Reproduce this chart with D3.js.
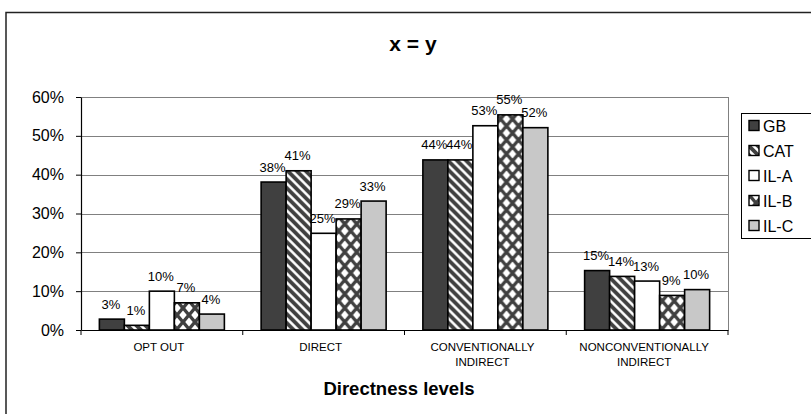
<!DOCTYPE html>
<html>
<head>
<meta charset="utf-8">
<script src="https://cdn.jsdelivr.net/npm/d3@7"></script>
<style>
  html, body { margin: 0; padding: 0; background: #fff; }
  svg { display: block; font-family: Arial, "Liberation Sans", sans-serif; }
</style>
</head>
<body>
<svg id="chart" width="811" height="414"></svg>
<script>
// ---- data ----
const title = "x = y";
const xTitle = "Directness levels";
const categories = ["OPT OUT", "DIRECT", "CONVENTIONALLY\nINDIRECT", "NONCONVENTIONALLY\nINDIRECT"];
const seriesNames = ["GB", "CAT", "IL-A", "IL-B", "IL-C"];
const GB   = [0.028, 0.381, 0.438, 0.153];
const CAT  = [0.012, 0.410, 0.438, 0.138];
const ILA  = [0.100, 0.249, 0.526, 0.126];
const ILB  = [0.070, 0.286, 0.554, 0.089];
const ILC  = [0.041, 0.332, 0.521, 0.104];
const yTicks = [0, 0.1, 0.2, 0.3, 0.4, 0.5, 0.6];

const seriesValues = [GB, CAT, ILA, ILB, ILC];
const fills = ["#404040", "url(#stripes)", "#ffffff", "url(#diamonds)", "#c8c8c8"];

const svg = d3.select("#chart");

// ---- patterns ----
const defs = svg.append("defs");
const st = defs.append("pattern").attr("id", "stripes")
  .attr("patternUnits", "userSpaceOnUse").attr("width", 9).attr("height", 9);
st.append("rect").attr("width", 9).attr("height", 9).attr("fill", "#fff");
st.append("path").attr("d", "M-3,6 l6,6 M-3,-3 l15,15 M6,-3 l6,6")
  .attr("stroke", "#404040").attr("stroke-width", 3.8).attr("fill", "none");

const dm = defs.append("pattern").attr("id", "diamonds")
  .attr("patternUnits", "userSpaceOnUse").attr("width", 12).attr("height", 14);
dm.append("rect").attr("width", 12).attr("height", 14).attr("fill", "#404040");
const dia = (cx, cy, rx, ry) => `M${cx},${cy - ry} L${cx + rx},${cy} L${cx},${cy + ry} L${cx - rx},${cy} Z`;
dm.append("path")
  .attr("d", [dia(6, 7, 3.8, 4.4), dia(0, 0, 3.8, 4.4), dia(12, 0, 3.8, 4.4), dia(0, 14, 3.8, 4.4), dia(12, 14, 3.8, 4.4)].join(" "))
  .attr("fill", "#fff");

// ---- outer chart border ----
svg.append("rect").attr("x", 6).attr("y", 12.5).attr("width", 830).attr("height", 430)
  .attr("fill", "none").attr("stroke", "#222").attr("stroke-width", 1.5);

// ---- scales ----
const plot = { left: 81, right: 728, top: 97, bottom: 330 };
const x0 = d3.scaleBand().domain(categories).range([plot.left, plot.right]).padding(0);
const x1 = d3.scaleBand().domain(seriesNames).range([0, x0.bandwidth()])
  .paddingInner(0).paddingOuter(0.735);
const y = d3.scaleLinear().domain([0, 0.6]).range([plot.bottom, plot.top]);

// ---- gridlines ----
svg.append("g").selectAll("line").data(yTicks.filter(d => d > 0)).join("line")
  .attr("x1", plot.left).attr("x2", plot.right)
  .attr("y1", d => Math.round(y(d)) + 0.5).attr("y2", d => Math.round(y(d)) + 0.5)
  .attr("stroke", "#808080").attr("stroke-width", 1);
svg.append("line").attr("x1", plot.right + 0.5).attr("x2", plot.right + 0.5)
  .attr("y1", plot.top).attr("y2", plot.bottom)
  .attr("stroke", "#808080").attr("stroke-width", 1);

// ---- bars ----
const groups = svg.append("g").selectAll("g").data(categories).join("g")
  .attr("transform", c => `translate(${x0(c)},0)`);
groups.each(function (c, ci) {
  const g = d3.select(this);
  seriesNames.forEach((s, si) => {
    const v = seriesValues[si][ci];
    g.append("rect")
      .attr("x", x1(s)).attr("y", y(v))
      .attr("width", x1.bandwidth()).attr("height", y(0) - y(v))
      .attr("fill", fills[si]).attr("stroke", "#000").attr("stroke-width", 1.6);
  });
  seriesNames.forEach((s, si) => {
    const v = seriesValues[si][ci];
    g.append("text")
      .attr("x", x1(s) + x1.bandwidth() / 2 - 1)
      .attr("y", y(v) - 10.5)
      .attr("text-anchor", "middle").attr("font-size", 13).attr("fill", "#000")
      .text(d3.format(".0%")(v));
  });
});

// ---- axes ----
const yAxis = d3.axisLeft(y).tickValues(yTicks).tickFormat(d3.format(".0%"))
  .tickSizeInner(5).tickSizeOuter(0).tickPadding(12);
const gy = svg.append("g").attr("transform", `translate(${plot.left},0)`).call(yAxis);
gy.select(".domain").attr("stroke", "#000").attr("stroke-width", 1.2);
gy.selectAll(".tick line").attr("stroke", "#000");
gy.selectAll(".tick text").attr("font-size", 16).attr("fill", "#000")
  .attr("font-family", "Arial, 'Liberation Sans', sans-serif");

const xAxis = d3.axisBottom(x0).tickSizeOuter(0).tickSize(0).tickFormat("");
const gx = svg.append("g").attr("transform", `translate(0,${plot.bottom})`).call(xAxis);
gx.select(".domain").attr("stroke", "#000").attr("stroke-width", 1.2);
// boundary tick marks between categories
const bounds = categories.map(c => x0(c)).concat([x0(categories[categories.length - 1]) + x0.bandwidth()]);
gx.selectAll("line.bnd").data(bounds).join("line").attr("class", "bnd")
  .attr("x1", d => d).attr("x2", d => d).attr("y1", 0).attr("y2", 5)
  .attr("stroke", "#000");
// category labels (multi-line)
categories.forEach(c => {
  const lines = c.split("\n");
  const t = svg.append("text")
    .attr("x", x0(c) + x0.bandwidth() / 2 - 3)
    .attr("y", 351)
    .attr("text-anchor", "middle").attr("font-size", 11.5).attr("fill", "#000");
  lines.forEach((ln, i) => {
    t.append("tspan").attr("x", x0(c) + x0.bandwidth() / 2 - 3).attr("dy", i === 0 ? 0 : 15).text(ln);
  });
});

// ---- titles ----
svg.append("text").attr("x", 413).attr("y", 51).attr("text-anchor", "middle")
  .attr("font-size", 21).attr("font-weight", "bold").text(title);
svg.append("text").attr("x", 399).attr("y", 395).attr("text-anchor", "middle")
  .attr("font-size", 18.5).attr("font-weight", "bold").text(xTitle);

// ---- legend ----
const lg = svg.append("g");
lg.append("rect").attr("x", 741.5).attr("y", 113.5).attr("width", 80).attr("height", 125)
  .attr("fill", "#fff").attr("stroke", "#000").attr("stroke-width", 1);
seriesNames.forEach((s, i) => {
  const cy = 125.5 + i * 25;
  lg.append("rect").attr("x", 749).attr("y", cy - 5).attr("width", 10).attr("height", 10)
    .attr("fill", fills[i]).attr("stroke", "#000").attr("stroke-width", 1.4);
  lg.append("text").attr("x", 763).attr("y", cy + 6).attr("font-size", 16).attr("fill", "#000").text(s);
});
</script>
</body>
</html>
